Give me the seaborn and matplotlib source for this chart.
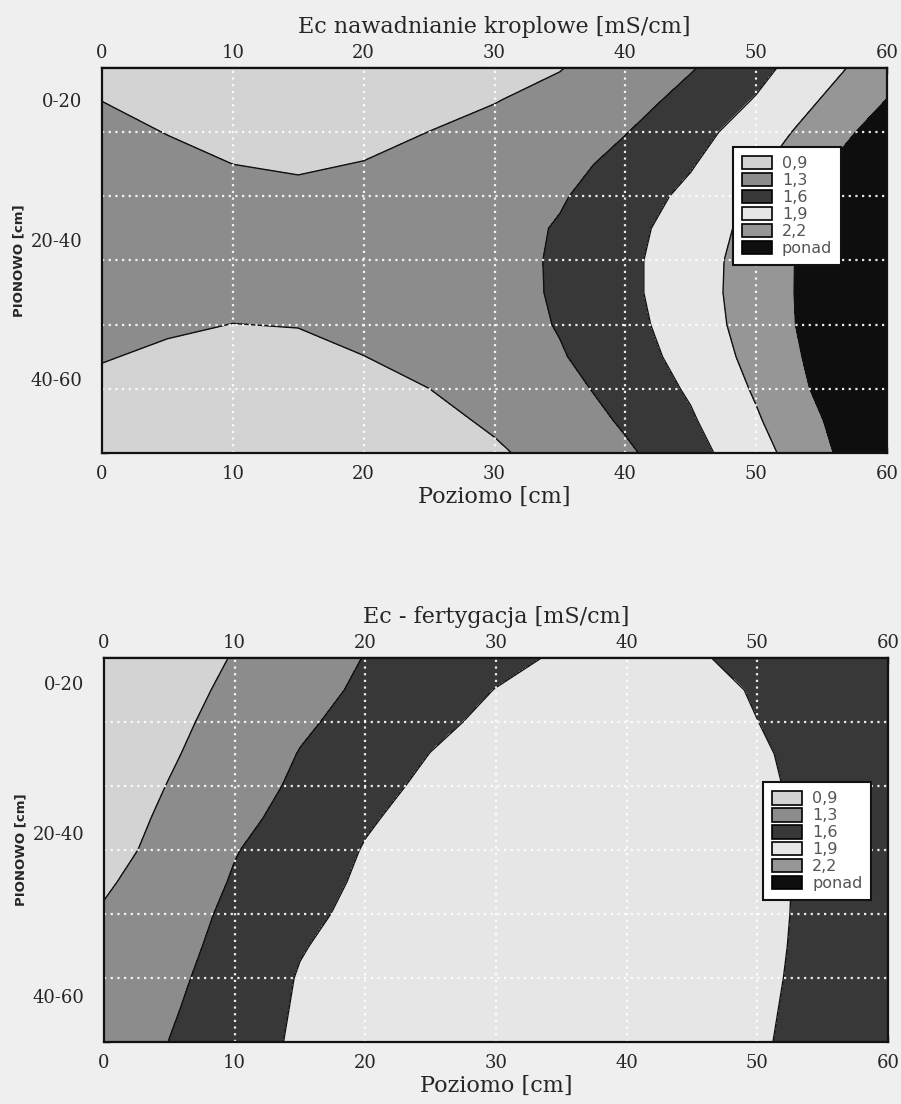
import numpy as np
import matplotlib
matplotlib.use("Agg")
import matplotlib.pyplot as plt
from matplotlib.patches import Patch
from matplotlib.ticker import MultipleLocator
import seaborn as sns

# grid nodes: horizontal distance [cm] and depth [cm]
poziomo = [0, 5, 10, 15, 20, 25, 30, 35, 40, 45, 50, 55, 60]
glebokosc = [0, 5, 10, 15, 20, 25, 30, 35, 40, 45, 50, 55, 60]

# Ec (rows = depth, cols = horizontal)
ec_kroplowe = [
    [0.820, 0.740, 0.680, 0.650, 0.680, 0.750, 0.820, 0.890, 1.040, 1.280, 1.514, 1.788, 2.082],
    [0.897, 0.818, 0.750, 0.725, 0.758, 0.827, 0.891, 0.975, 1.178, 1.396, 1.618, 1.912, 2.206],
    [0.972, 0.893, 0.825, 0.800, 0.833, 0.902, 0.966, 1.100, 1.290, 1.497, 1.738, 2.038, 2.350],
    [1.047, 0.968, 0.900, 0.875, 0.908, 0.977, 1.041, 1.203, 1.390, 1.578, 1.844, 2.161, 2.487],
    [1.122, 1.043, 0.975, 0.950, 0.983, 1.052, 1.116, 1.274, 1.461, 1.667, 1.931, 2.244, 2.556],
    [1.197, 1.118, 1.050, 1.025, 1.058, 1.127, 1.191, 1.323, 1.513, 1.733, 1.994, 2.288, 2.582],
    [1.140, 1.083, 1.047, 1.058, 1.122, 1.200, 1.170, 1.346, 1.535, 1.765, 2.030, 2.320, 2.620],
    [1.065, 1.008, 0.972, 0.983, 1.047, 1.125, 1.170, 1.342, 1.534, 1.768, 2.036, 2.319, 2.602],
    [0.990, 0.933, 0.897, 0.908, 0.972, 1.050, 1.163, 1.319, 1.509, 1.744, 2.027, 2.315, 2.604],
    [0.915, 0.858, 0.822, 0.833, 0.897, 0.975, 1.088, 1.277, 1.471, 1.698, 1.990, 2.290, 2.590],
    [0.840, 0.783, 0.747, 0.758, 0.822, 0.899, 1.013, 1.203, 1.414, 1.635, 1.933, 2.259, 2.585],
    [0.765, 0.708, 0.672, 0.683, 0.747, 0.825, 0.938, 1.114, 1.341, 1.568, 1.869, 2.190, 2.533],
    [0.690, 0.633, 0.597, 0.608, 0.672, 0.750, 0.863, 1.005, 1.251, 1.497, 1.789, 2.136, 2.493],
]

# Ec
ec_fertygacja = [
    [0.520, 0.720, 0.920, 1.120, 1.311, 1.419, 1.527, 1.632, 1.730, 1.630, 1.530, 1.430, 1.330],
    [0.558, 0.767, 0.975, 1.184, 1.355, 1.481, 1.606, 1.706, 1.780, 1.680, 1.580, 1.480, 1.380],
    [0.592, 0.812, 1.032, 1.252, 1.406, 1.543, 1.658, 1.758, 1.800, 1.702, 1.602, 1.502, 1.402],
    [0.629, 0.859, 1.089, 1.312, 1.459, 1.604, 1.704, 1.800, 1.800, 1.726, 1.626, 1.526, 1.426],
    [0.679, 0.914, 1.149, 1.358, 1.520, 1.650, 1.750, 1.800, 1.800, 1.738, 1.638, 1.538, 1.438],
    [0.722, 0.969, 1.216, 1.409, 1.574, 1.684, 1.784, 1.800, 1.800, 1.746, 1.646, 1.546, 1.446],
    [0.765, 1.025, 1.285, 1.457, 1.614, 1.714, 1.800, 1.800, 1.800, 1.750, 1.650, 1.550, 1.450],
    [0.851, 1.095, 1.327, 1.498, 1.640, 1.740, 1.800, 1.800, 1.800, 1.752, 1.652, 1.552, 1.452],
    [0.936, 1.161, 1.366, 1.541, 1.666, 1.766, 1.800, 1.800, 1.800, 1.750, 1.650, 1.550, 1.450],
    [0.971, 1.197, 1.400, 1.585, 1.692, 1.792, 1.800, 1.800, 1.800, 1.746, 1.646, 1.546, 1.446],
    [1.008, 1.233, 1.437, 1.616, 1.716, 1.800, 1.800, 1.800, 1.800, 1.740, 1.640, 1.540, 1.440],
    [1.044, 1.269, 1.463, 1.628, 1.728, 1.800, 1.800, 1.800, 1.800, 1.732, 1.632, 1.532, 1.432],
    [1.080, 1.304, 1.487, 1.638, 1.738, 1.800, 1.800, 1.800, 1.800, 1.724, 1.624, 1.524, 1.424],
]

poziomy = [0.0, 0.9, 1.3, 1.6, 1.9, 2.2, 3.0]
etykiety = ['0,9', '1,3', '1,6', '1,9', '2,2', 'ponad']
kolory = ['#d3d3d3', '#8c8c8c', '#383838', '#e6e6e6', '#969696', '#0e0e0e']

x_ticks = [0, 10, 20, 30, 40, 50, 60]
siatka = [10, 20, 30, 40, 50]
y_labels = ['0-20', '20-40', '40-60']

sns.set_theme(style='white')
plt.rcParams['font.family'] = ['DejaVu Serif']
plt.rcParams['axes.linewidth'] = 1.6
plt.rcParams['axes.edgecolor'] = '#111111'

fig = plt.figure(figsize=(9.01, 11.04), dpi=100, facecolor='#efefef')


def panel(rect, z, title, y_pos, legend_xy):
    ax = fig.add_axes(rect)
    X, Y = np.meshgrid(poziomo, glebokosc)
    Z = np.array(z)
    ax.contourf(X, Y, Z, levels=poziomy, colors=kolory, zorder=1)
    ax.contour(X, Y, Z, levels=poziomy[1:-1], colors='#111111', linewidths=1.0, zorder=2)

    # white dotted grid
    for g in siatka:
        ax.axvline(g, color='white', lw=1.6, ls=(0, (1, 2)), alpha=0.9, zorder=3)
        ax.axhline(g, color='white', lw=1.6, ls=(0, (1, 2)), alpha=0.9, zorder=3)

    ax.set_xlim(0, 60)
    ax.set_ylim(60, 0)
    ax.set_xticks(x_ticks)
    ax.xaxis.set_minor_locator(MultipleLocator(2))
    ax.set_yticks(y_pos, y_labels)
    ax.yaxis.set_minor_locator(MultipleLocator(1.5))
    ax.tick_params(axis='x', which='both', direction='in', top=True, bottom=True,
                   length=4, width=1.0, color='#111111', labelsize=13, pad=9)
    ax.tick_params(axis='y', which='major', length=0, labelsize=13, pad=14)
    ax.tick_params(axis='y', which='minor', direction='in', left=True, length=4, width=1.0,
                   color='#111111')

    sec = ax.secondary_xaxis('top')
    sec.set_xticks(x_ticks)
    sec.tick_params(length=0, labelsize=13, pad=4)

    ax.set_title(title, fontsize=16, pad=8)
    ax.set_xlabel('Poziomo [cm]', fontsize=16, labelpad=2)
    ax.set_ylabel('PIONOWO [cm]', family='DejaVu Sans', fontweight='bold', fontsize=9.5)
    ax.yaxis.set_label_coords(-0.097, 0.5)

    uchwyty = [Patch(facecolor=c, edgecolor='black', linewidth=1.2) for c in kolory]
    leg = ax.legend(uchwyty, etykiety, loc='upper left', bbox_to_anchor=legend_xy,
                    frameon=True, fancybox=False, framealpha=1, edgecolor='#111111',
                    handlelength=1.9, handleheight=0.95, labelspacing=0.1,
                    handletextpad=0.6, borderpad=0.55, borderaxespad=0,
                    prop={'family': 'DejaVu Sans', 'size': 11.5})
    leg.get_frame().set_linewidth(1.5)
    leg.set_zorder(5)
    for t in leg.get_texts():
        t.set_color('#555555')
    for s in ax.spines.values():
        s.set_zorder(6)
    return ax


panel([0.1132, 0.5897, 0.8713, 0.3487], ec_kroplowe,
      'Ec nawadnianie kroplowe [mS/cm]', [5.0, 26.8, 48.4], (0.804, 0.795))
panel([0.1154, 0.0562, 0.8701, 0.3478], ec_fertygacja,
      'Ec - fertygacja [mS/cm]', [3.9, 27.3, 52.8], (0.841, 0.677))

fig.savefig('out.png', dpi=100, facecolor=fig.get_facecolor())
